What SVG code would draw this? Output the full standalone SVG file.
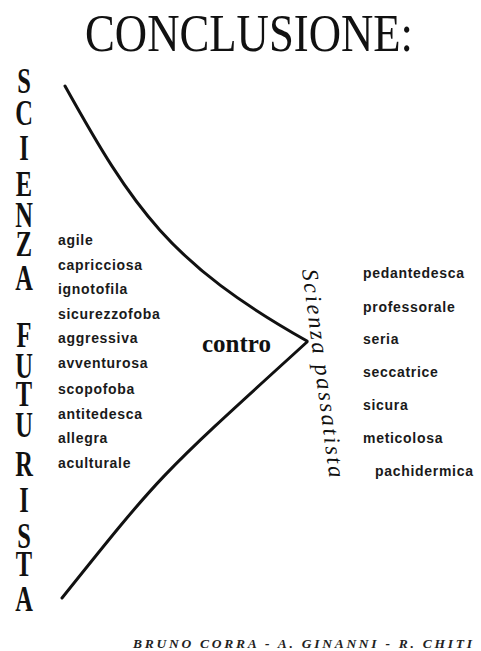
<svg xmlns="http://www.w3.org/2000/svg" width="481" height="651" viewBox="0 0 481 651">
<style>
.title{font-family:"Liberation Serif",serif;font-size:52px;fill:#111}
.vl{font-family:"Liberation Serif",serif;font-weight:bold;font-size:36px;fill:#111;text-anchor:middle}
.w{font-family:"Liberation Sans",sans-serif;font-weight:bold;font-size:14px;letter-spacing:0.7px;fill:#1a1a1a}
.contro{font-family:"Liberation Serif",serif;font-weight:bold;font-size:25px;fill:#111}
.pass{font-family:"Liberation Serif",serif;font-style:italic;font-size:23px;fill:#111}
.foot{font-family:"Liberation Serif",serif;font-style:italic;font-weight:bold;font-size:13.5px;fill:#222}
.line{fill:none;stroke:#111;stroke-width:3;stroke-linecap:round}
</style>
<rect width="481" height="651" fill="#fff"/>
<g id="title"><text class="title" x="85" y="51" textLength="328" lengthAdjust="spacingAndGlyphs">CONCLUSIONE:</text></g>
<g id="scienza-futurista" transform="translate(24,0) scale(0.68,1)">
<text class="vl"><tspan x="0" y="93">S</tspan><tspan x="0" y="125">C</tspan><tspan x="0" y="160">I</tspan><tspan x="0" y="196">E</tspan><tspan x="0" y="227">N</tspan><tspan x="0" y="256">Z</tspan><tspan x="0" y="290">A</tspan><tspan x="0" y="347">F</tspan><tspan x="0" y="378">U</tspan><tspan x="0" y="406">T</tspan><tspan x="0" y="437">U</tspan><tspan x="0" y="476">R</tspan><tspan x="0" y="512">I</tspan><tspan x="0" y="548">S</tspan><tspan x="0" y="576">T</tspan><tspan x="0" y="611">A</tspan></text>
</g>
<g id="connectors">
<path class="line" d="M65,86 C133,208 169.5,263.6 307,341"/>
<path class="line" d="M307,342 C159.6,476 162.8,472 62,598"/>
</g>
<g id="futurista-words">
<text class="w" x="58" y="245">agile</text>
<text class="w" x="58" y="270">capricciosa</text>
<text class="w" x="58" y="294">ignotofila</text>
<text class="w" x="58" y="319">sicurezzofoba</text>
<text class="w" x="58" y="343">aggressiva</text>
<text class="w" x="58" y="368">avventurosa</text>
<text class="w" x="58" y="394">scopofoba</text>
<text class="w" x="58" y="419">antitedesca</text>
<text class="w" x="58" y="443">allegra</text>
<text class="w" x="58" y="468">aculturale</text>
</g>
<g id="contro"><text class="contro" x="202" y="352">contro</text></g>
<g id="scienza-passatista"><text class="pass" transform="translate(302,270) rotate(82.5)" x="0" y="0" textLength="210" lengthAdjust="spacing">Scienza passatista</text></g>
<g id="passatista-words">
<text class="w" x="363" y="278">pedantedesca</text>
<text class="w" x="363" y="312">professorale</text>
<text class="w" x="363" y="344">seria</text>
<text class="w" x="363" y="377">seccatrice</text>
<text class="w" x="363" y="410">sicura</text>
<text class="w" x="363" y="443">meticolosa</text>
<text class="w" x="375" y="476">pachidermica</text>
</g>
<g id="footer"><text class="foot" x="133" y="648" textLength="339" lengthAdjust="spacing">BRUNO CORRA - A. GINANNI - R. CHITI</text></g>
</svg>
